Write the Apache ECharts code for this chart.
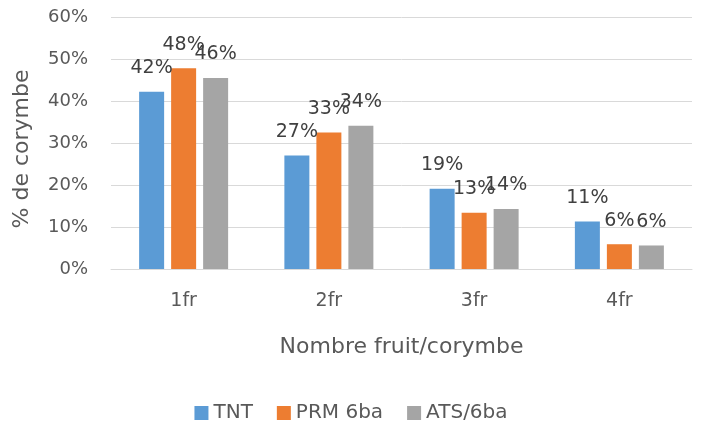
<!DOCTYPE html>
<html>
<head>
<meta charset="utf-8">
<script src="https://cdn.jsdelivr.net/npm/echarts@6/dist/echarts.min.js"></script>
<style>
  html, body { margin: 0; padding: 0; background: #fff; }
  #chart { width: 702px; height: 424px; }
</style>
</head>
<body>
<div id="chart"></div>
<script>
// data (percent)
var categories = ["1fr", "2fr", "3fr", "4fr"];
var seriesNames = ["TNT", "PRM 6ba", "ATS/6ba"];
var tnt = [42.2, 27.0, 19.1, 11.3];
var prm = [47.8, 32.5, 13.4, 5.9];
var ats = [45.5, 34.1, 14.3, 5.6];
var yTicks = [0, 10, 20, 30, 40, 50, 60];

var colors = ["#5B9BD5", "#ED7D31", "#A5A5A5"];
var font = "DejaVu Sans";

var myChart = echarts.init(document.getElementById("chart"), null, { renderer: "canvas" });

var _label = {
  show: true,
  position: "top",
  distance: 14,
  color: "#404040",
  fontFamily: font,
  fontSize: 19,
  formatter: function (p) {
    return Math.round(p.value) + "%";
  }
};

function makeSeries(name, data, idx) {
  return {
    type: "bar",
    name: name,
    data: data,
    barWidth: 25,
    barGap: "28%",
    barCategoryGap: "38%",
    itemStyle: { color: colors[idx] },
    label: _label
  };
}

var option = {
  animation: false,
  color: colors,
  grid: {
    left: 111,
    right: 10,
    top: 17,
    bottom: 155
  },
  legend: {
    data: seriesNames,
    top: 398,
    left: "center",
    itemWidth: 14,
    itemHeight: 14,
    itemGap: 24,
    icon: "rect",
    textStyle: { color: "#595959", fontFamily: font, fontSize: 20 }
  },
  xAxis: {
    type: "category",
    data: categories,
    name: "Nombre fruit/corymbe",
    nameLocation: "middle",
    nameGap: 67,
    nameTextStyle: { color: "#595959", fontFamily: font, fontSize: 22 },
    axisLine: { lineStyle: { color: "#D9D9D9", width: 1 } },
    axisTick: { show: false },
    axisLabel: { color: "#595959", fontFamily: font, fontSize: 19, margin: 23 }
  },
  yAxis: {
    type: "value",
    min: yTicks[0],
    max: yTicks[yTicks.length - 1],
    interval: 10,
    name: "% de corymbe",
    nameLocation: "middle",
    nameGap: 78,
    nameTextStyle: { color: "#595959", fontFamily: font, fontSize: 22, padding: [0, 12, 0, 0] },
    axisLine: { show: false },
    axisTick: { show: false },
    axisLabel: { color: "#595959", fontFamily: font, fontSize: 18, margin: 23, formatter: "{value}%" },
    splitLine: { lineStyle: { color: "#D9D9D9", width: 1 } }
  },
  series: [
    makeSeries(seriesNames[0], tnt, 0),
    makeSeries(seriesNames[1], prm, 1),
    makeSeries(seriesNames[2], ats, 2)
  ]
};

myChart.setOption(option);
</script>
</body>
</html>
